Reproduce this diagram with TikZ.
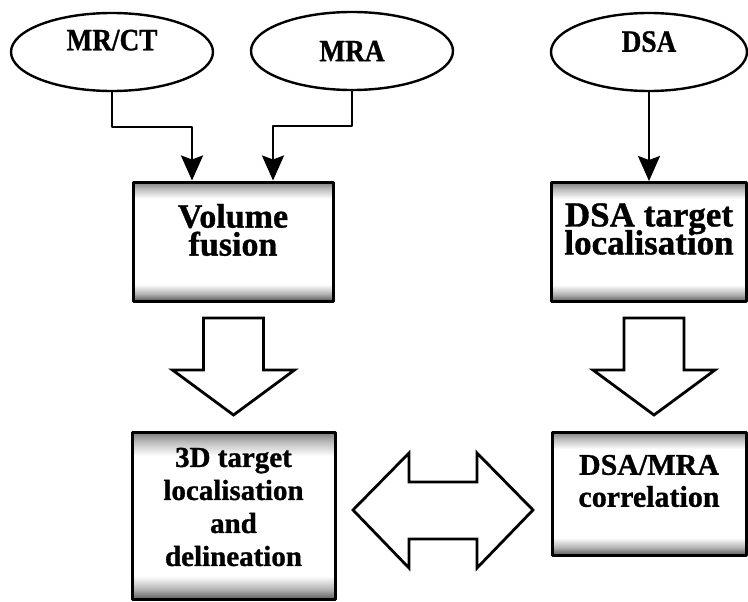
\documentclass[tikz,border=0pt]{standalone}
\usepackage{fontspec}
\setmainfont{Liberation Serif}
\newfontfamily\narrowserif[FakeStretch=0.88, FakeBold=1]{Liberation Serif}
\newfontfamily\heavyserif[FakeBold=1]{Liberation Serif}
\usetikzlibrary{shapes.geometric}
\usetikzlibrary{arrows.meta}

% dark bands along the top and bottom edge of the stage boxes
\pgfdeclareverticalshading{scanband}{100bp}{color(0bp)=(black!65); color(25bp)=(black!65); color(28bp)=(black!30); color(32bp)=(white); color(68bp)=(white); color(72bp)=(black!25); color(75bp)=(black!50); color(100bp)=(black!50)}
\newcommand{\tightlines}{\lineskiplimit=-100pt\relax}

\begin{document}
\begin{tikzpicture}[x=1pt, y=-1pt, line cap = round, line join = round, >={Stealth[length=25pt,width=22pt,inset=4pt]}]
\tikzstyle{source}=[ellipse, draw=black, line width=2.4pt, minimum width=202pt, minimum height=78pt, inner sep=0pt, font=\narrowserif\bfseries\fontsize{31}{32}\selectfont]
\tikzstyle{stage}=[rectangle, draw=black, line width=3pt, shade, shading=scanband, inner sep=0pt]
\tikzstyle{caption}=[align=center, inner sep=0pt]
\tikzstyle{link}=[line width=2.6pt, ->]
\tikzstyle{fat}=[line width=2.8pt, draw=black, fill=white, line join=miter]

\useasboundingbox (0,0) rectangle (748,602);

\node[source, text depth=24pt] (mrct) at (112,52) {MR/CT};
\node[source] (mra) at (352,51) {MRA};
\node[source, minimum width=196pt, text depth=21pt] (dsa) at (649,52) {DSA};

\node[stage, minimum width=200pt, minimum height=119pt] (fuse) at (233,241.5) {};
\node[stage, minimum width=195pt, minimum height=119pt] (dsaloc) at (648.5,242) {};
\node[stage, minimum width=203pt, minimum height=167pt] (loc3d) at (233.5,516) {};
\node[stage, minimum width=194pt, minimum height=123pt] (corr) at (649,493.5) {};

\node[caption, font=\heavyserif\bfseries\fontsize{34}{28}\selectfont\tightlines] (fuse-t) at (233,230) {Volume\\fusion};
\node[caption, font=\heavyserif\bfseries\fontsize{35}{28}\selectfont\tightlines] (dsaloc-t) at (649,229) {DSA target\\localisation};
\node[caption, font=\heavyserif\bfseries\fontsize{29}{33}\selectfont\tightlines] (loc3d-t) at (233.5,507) {3D target\\localisation\\and\\delineation};
\node[caption, font=\heavyserif\bfseries\fontsize{30}{32}\selectfont\tightlines] (corr-t) at (649,481) {DSA/MRA\\correlation};

\draw[link] (mrct.south) -- ++(0,35) -| ([xshift=-41pt]fuse.north);
\draw[link] (mra.south) -- ++(0,35) -| ([xshift=40pt]fuse.north);
\draw[link] (dsa.south) -- (dsa.south |- dsaloc.north);

% block arrows
\foreach \cx in {233.5, 654} {
  \draw[fat] (\cx-30,318) -- (\cx+30,318) -- (\cx+30,370) -- (\cx+61,370) -- (\cx,415) -- (\cx-61,370) -- (\cx-30,370) -- cycle;
}
\draw[fat] (353,510) -- (409,453) -- (409,482) -- (477,482) -- (477,453) -- (533,510) -- (477,568) -- (477,539) -- (409,539) -- (409,568) -- cycle;
\end{tikzpicture}
\end{document}
